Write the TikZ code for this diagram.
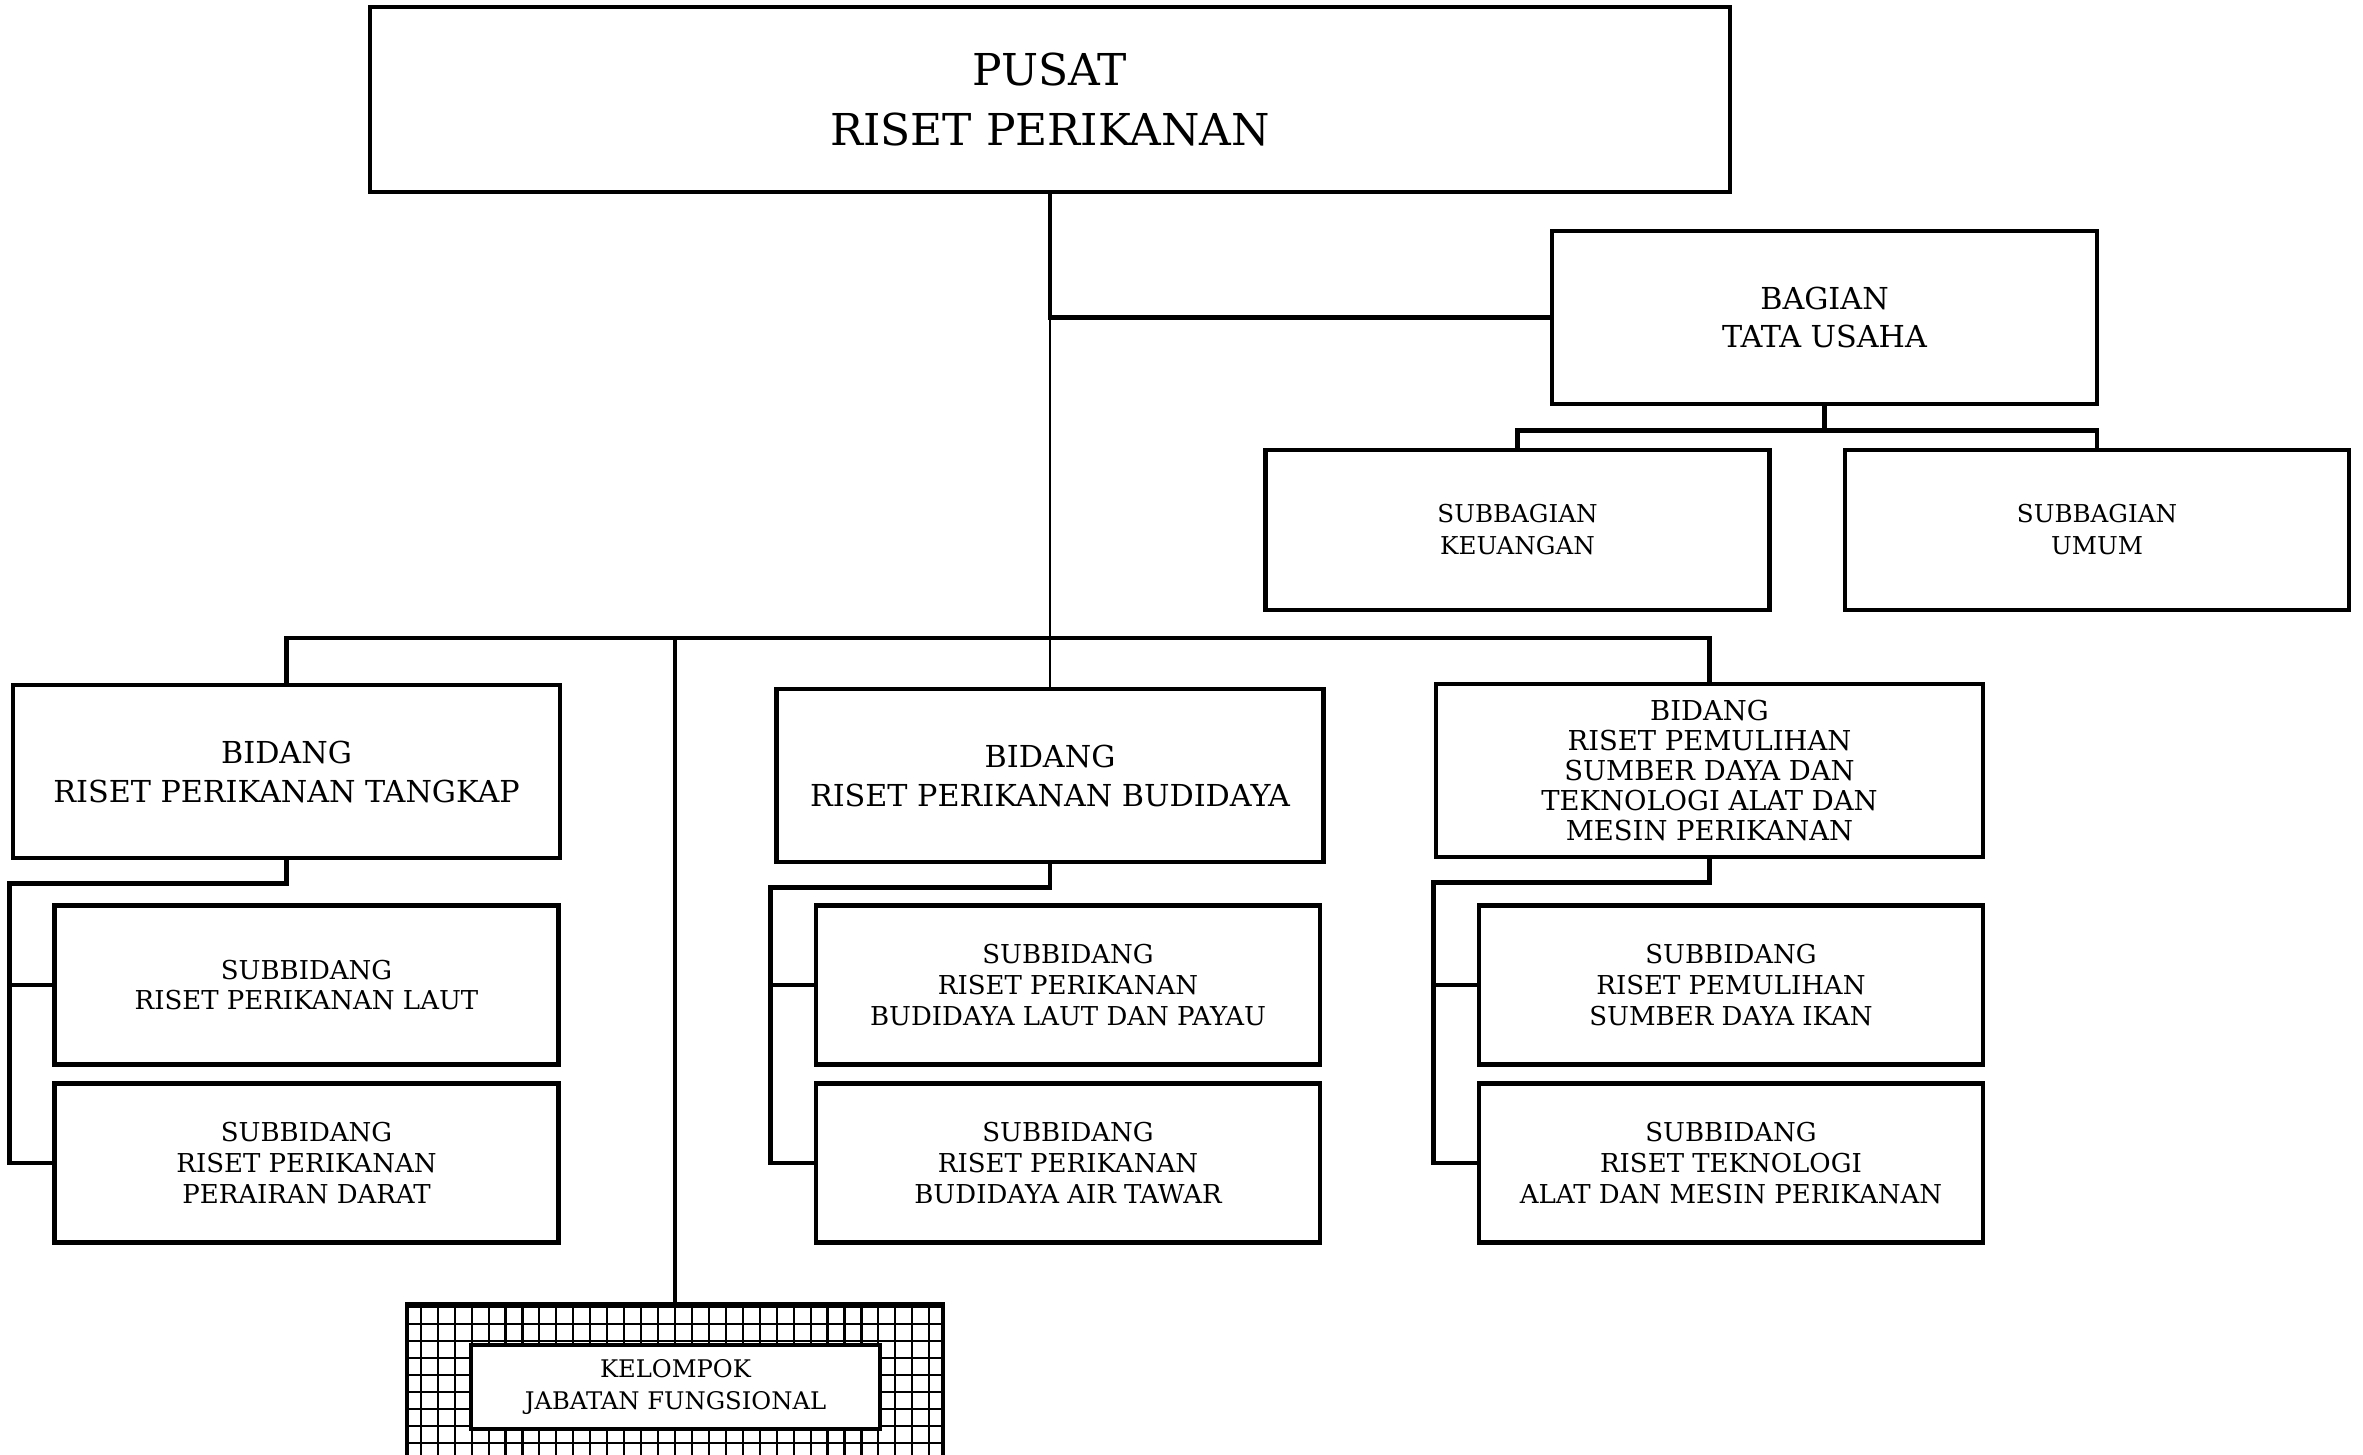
\documentclass[tikz,border=0pt]{standalone}
\usepackage{fontspec}
\setmainfont{DejaVu Serif}
\begin{document}
\begin{tikzpicture}[line width=1.3pt]
        %
        % `pusatbox', `tubox' and `bidbox' are the big boxes,
        % `sbbox' and `subbox' the small ones under them.
        % `hatchbox' is the gridded area round the functional group.
        \tikzstyle{pusatbox} = [draw,align=center,inner sep=0pt,minimum width=13.6cm,minimum height=1.85cm,font=\fontsize{12.5}{16.8}\selectfont]
        \tikzstyle{tubox} = [draw,align=center,inner sep=0pt,minimum width=5.45cm,minimum height=1.73cm,font=\fontsize{8.6}{10.8}\selectfont]
        \tikzstyle{sbbox} = [draw,align=center,inner sep=0pt,minimum width=5.04cm,minimum height=1.6cm,font=\fontsize{7.0}{9.1}\selectfont]
        \tikzstyle{bidbox} = [draw,align=center,inner sep=0pt,minimum width=5.47cm,minimum height=1.73cm,font=\fontsize{8.6}{11.1}\selectfont]
        \tikzstyle{subbox} = [draw,align=center,inner sep=0pt,minimum width=5.04cm,minimum height=1.59cm,font=\fontsize{7.4}{8.8}\selectfont]
        \tikzstyle{jfbox} = [draw,fill=white,align=center,inner sep=0pt,minimum width=4.09cm,minimum height=0.84cm,font=\fontsize{6.9}{9.1}\selectfont]
        \tikzstyle{hatchbox} = [draw,minimum width=5.36cm,minimum height=1.76cm,inner sep=0pt,
          path picture={\draw[line width=0.6pt,step=0.1695] (path picture bounding box.south west) grid (path picture bounding box.north east);}]
        %
        \useasboundingbox (0,0) rectangle (23.63,-14.54);
        %
        % Row 1
        \node[pusatbox] (pusat) at (10.50,-0.995) {PUSAT\\RISET PERIKANAN};
        %
        % Row 2
        \node[tubox] (tu) at (18.245,-3.175) {BAGIAN\\TATA USAHA};
        \node[sbbox] (keu) at (15.175,-5.30) {SUBBAGIAN\\KEUANGAN};
        \node[sbbox] (umum) at (20.97,-5.30) {SUBBAGIAN\\UMUM};
        %
        % Row 3
        \node[bidbox] (bid1) at (2.865,-7.715) {BIDANG\\RISET PERIKANAN TANGKAP};
        \node[bidbox] (bid2) at (10.50,-7.755) {BIDANG\\RISET PERIKANAN BUDIDAYA};
        \node[bidbox,font=\fontsize{7.8}{8.5}\selectfont] (bid3) at (17.095,-7.705)
          {BIDANG\\RISET PEMULIHAN\\SUMBER DAYA DAN\\TEKNOLOGI ALAT DAN\\MESIN PERIKANAN};
        %
        % Row 4
        \node[subbox] (sub11) at (3.065,-9.85) {SUBBIDANG\\RISET PERIKANAN LAUT};
        \node[subbox] (sub12) at (3.065,-11.63) {SUBBIDANG\\RISET PERIKANAN\\PERAIRAN DARAT};
        \node[subbox] (sub21) at (10.68,-9.85) {SUBBIDANG\\RISET PERIKANAN\\BUDIDAYA LAUT DAN PAYAU};
        \node[subbox] (sub22) at (10.68,-11.63) {SUBBIDANG\\RISET PERIKANAN\\BUDIDAYA AIR TAWAR};
        \node[subbox] (sub31) at (17.31,-9.85) {SUBBIDANG\\RISET PEMULIHAN\\SUMBER DAYA IKAN};
        \node[subbox] (sub32) at (17.31,-11.63) {SUBBIDANG\\RISET TEKNOLOGI\\ALAT DAN MESIN PERIKANAN};
        %
        % Row 5
        \node[hatchbox] (jfbg) at (6.75,-13.92) {};
        \node[jfbox] (jf) at (6.755,-13.87) {KELOMPOK\\JABATAN FUNGSIONAL};
        %
        % Lines from the top
        \draw (pusat.south) -- (pusat.south |- tu.west) coordinate (cabang) -- (tu.west);
        \draw[line width=0.4pt] (cabang) -- (bid2.north);
        \draw (tu.south) -- ++(0,-0.24);
        \draw (keu.north) |- ([yshift=-0.24cm]tu.south) -| (umum.north);
        %
        % Main bus
        \coordinate (bus) at (0,-6.38);
        \draw (bid1.north) -- (bid1.north |- bus) -- (bid3.north |- bus) -- (bid3.north);
        \draw (jfbg.north |- bus) -- (jfbg.north);
        %
        % Lines to the subbidang
        \foreach \s in {1,2,3} {
          \draw (bid\s.south) -- ++(0,-0.23) -| ([xshift=-0.43cm]sub\s2.west) -- (sub\s2.west);
          \draw ([xshift=-0.43cm]sub\s1.west) -- (sub\s1.west);
        }
        %
\end{tikzpicture}
\end{document}
